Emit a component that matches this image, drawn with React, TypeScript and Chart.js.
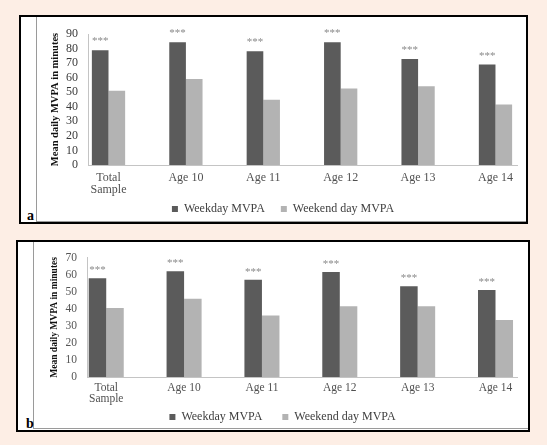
import React, { useEffect, useRef } from "react";
import { Chart, registerables } from "chart.js";

Chart.register(...registerables);

// ---- data ----
const categories: (string | string[])[] = [["Total", "Sample"], "Age 10", "Age 11", "Age 12", "Age 13", "Age 14"];
const seriesNames = ["Weekday MVPA", "Weekend day MVPA"];
const significance = ["***", "***", "***", "***", "***", "***"];

const weekdayA = [78.8, 84.3, 78.2, 84.3, 72.9, 69.0];
const weekendA = [51.0, 59.1, 44.9, 52.6, 54.1, 41.6];
const yMaxA = 90;

const weekdayB = [58.0, 62.1, 57.1, 61.7, 53.2, 51.0];
const weekendB = [40.5, 46.0, 36.1, 41.6, 41.6, 33.5];
const yMaxB = 70;

const yStep = 10;
const yTitle = "Mean daily MVPA in minutes";

// ---- styles ----
const SERIF = '"Liberation Serif", "Times New Roman", serif';
const DARK = "#5b5b5b";
const LIGHT = "#b3b3b3";
const AXIS = "#c4c4c4";
const PAGE_BG = "#fdeee5";

const starsPlugin = {
  id: "stars",
  afterDatasetsDraw(chart: any, _args: any, opts: any) {
    const meta = chart.getDatasetMeta(0);
    const ctx = chart.ctx;
    ctx.save();
    ctx.font = opts.font;
    ctx.fillStyle = opts.color;
    ctx.textAlign = "center";
    ctx.textBaseline = "alphabetic";
    meta.data.forEach((el: any, i: number) => {
      ctx.fillText(significance[i], el.x, el.y - opts.offset);
    });
    ctx.restore();
  },
};

type P = {
  weekday: number[];
  weekend: number[];
  yMax: number;
  xMin: number;
  xMax: number;
  catPct: number;
  padTop: number;
  yW: number;
  rW: number;
  xH: number;
  xPad: number;
  fontSize: number;
  legendPad: number;
  legendGap: string;
  titleSize: number;
  titlePad: number;
  tickColor: string;
  starOffset: number;
};

function buildConfig(p: P): any {
  const font = { family: SERIF, size: p.fontSize, lineHeight: 1 };
  return {
    type: "bar",
    data: {
      datasets: [
        {
          label: seriesNames[0],
          data: p.weekday.map((v, i) => ({ x: i, y: v })),
          backgroundColor: DARK,
          borderWidth: 0,
          categoryPercentage: p.catPct,
          barPercentage: 1,
        },
        {
          label: seriesNames[1],
          data: p.weekend.map((v, i) => ({ x: i, y: v })),
          backgroundColor: LIGHT,
          borderWidth: 0,
          categoryPercentage: p.catPct,
          barPercentage: 1,
        },
      ],
    },
    options: {
      responsive: false,
      animation: false,
      layout: { padding: { top: p.padTop, left: 0, right: 0, bottom: 0 } },
      plugins: {
        legend: {
          position: "bottom",
          labels: {
            boxWidth: 6,
            boxHeight: 6,
            padding: p.legendPad,
            font: { family: SERIF, size: 12 },
            color: "#404040",
            generateLabels: (chart: any) => {
              const items = Chart.defaults.plugins.legend.labels.generateLabels(chart);
              return items.map((it: any, i: number) => ({
                ...it,
                lineWidth: 0,
                text: i === 0 ? it.text + p.legendGap : it.text,
              }));
            },
          },
        },
        tooltip: { enabled: false },
        stars: { font: `11px ${SERIF}`, color: "#8a8a8a", offset: p.starOffset },
      },
      scales: {
        x: {
          type: "linear",
          offset: false,
          min: p.xMin,
          max: p.xMax,
          grid: { display: false, drawTicks: false, offset: false },
          border: { display: true, color: AXIS },
          afterBuildTicks: (s: any) => {
            s.ticks = categories.map((_, i) => ({ value: i }));
          },
          ticks: {
            autoSkip: false,
            maxRotation: 0,
            minRotation: 0,
            padding: p.xPad,
            font,
            color: "#505050",
            callback: (v: any) => categories[v] ?? "",
          },
          afterFit: (s: any) => {
            s.height = p.xH;
          },
        },
        y: {
          min: 0,
          max: p.yMax,
          grid: { display: false, drawTicks: false },
          border: { display: true, color: AXIS },
          ticks: { stepSize: yStep, autoSkip: false, padding: 10, font, color: p.tickColor },
          title: {
            display: true,
            text: yTitle,
            color: "#111",
            font: { family: SERIF, size: p.titleSize, weight: "bold" },
            padding: { top: p.titlePad, bottom: 0 },
          },
          afterFit: (s: any) => {
            s.width = p.yW;
          },
        },
        yr: {
          type: "linear",
          position: "right",
          display: true,
          grid: { display: false, drawTicks: false },
          border: { display: false },
          ticks: { display: false },
          afterFit: (s: any) => {
            s.width = p.rW;
          },
        },
      },
    },
    plugins: [starsPlugin],
  };
}

function ChartCanvas({ p, style, w, h }: { p: P; style: React.CSSProperties; w: number; h: number }) {
  const ref = useRef<HTMLCanvasElement | null>(null);
  useEffect(() => {
    if (!ref.current) return;
    const chart = new Chart(ref.current, buildConfig(p));
    return () => chart.destroy();
  }, []);
  return <canvas ref={ref} width={w} height={h} style={{ position: "absolute", ...style, width: w, height: h }} />;
}

const paramsA: P = {
  weekday: weekdayA,
  weekend: weekendA,
  yMax: yMaxA,
  xMin: -0.265,
  xMax: 5.278,
  catPct: 0.43,
  padTop: 10,
  yW: 51,
  rW: 12,
  xH: 31,
  xPad: 7,
  fontSize: 12,
  legendPad: 7,
  legendGap: "   ",
  titleSize: 10.5,
  titlePad: 12,
  tickColor: "#3a3a3a",
  starOffset: 6,
};

const paramsB: P = {
  weekday: weekdayB,
  weekend: weekendB,
  yMax: yMaxB,
  xMin: -0.247,
  xMax: 5.276,
  catPct: 0.45,
  padTop: 9,
  yW: 53,
  rW: 14,
  xH: 29,
  xPad: 5,
  fontSize: 11.5,
  legendPad: 5,
  legendGap: "     ",
  titleSize: 9.5,
  titlePad: 15,
  tickColor: "#555",
  starOffset: 5,
};

export default function App() {
  return (
    <div
      style={{
        position: "fixed",
        left: 0,
        top: 0,
        width: 547,
        height: 445,
        background: PAGE_BG,
        overflow: "hidden",
      }}
    >
      {/* panel a frame */}
      <div
        style={{
          position: "absolute",
          left: 19,
          top: 15,
          width: 509,
          height: 209,
          boxSizing: "border-box",
          border: "2px solid #000",
          background: "#fff",
        }}
      >
        <div style={{ position: "absolute", left: 15, top: 0, bottom: 1, width: 0, borderLeft: "1px solid #9a9a9a" }} />
        <div style={{ position: "absolute", left: 15, right: 0, top: 204, height: 0, borderTop: "1px solid #9a9a9a" }} />
        <div
          style={{
            position: "absolute",
            left: 6,
            top: 192,
            fontFamily: SERIF,
            fontWeight: "bold",
            fontSize: 14,
            lineHeight: "14px",
            color: "#000",
          }}
        >
          a
        </div>
      </div>
      {/* panel b frame */}
      <div
        style={{
          position: "absolute",
          left: 16,
          top: 240,
          width: 514,
          height: 192,
          boxSizing: "border-box",
          border: "2px solid #000",
          background: "#fff",
        }}
      >
        <div style={{ position: "absolute", left: 15, top: 0, bottom: 1, width: 0, borderLeft: "1px solid #9a9a9a" }} />
        <div style={{ position: "absolute", left: 15, right: 0, top: 186, height: 0, borderTop: "1px solid #9a9a9a" }} />
        <div
          style={{
            position: "absolute",
            left: 8,
            top: 175,
            fontFamily: SERIF,
            fontWeight: "bold",
            fontSize: 14,
            lineHeight: "14px",
            color: "#000",
          }}
        >
          b
        </div>
      </div>
      <ChartCanvas p={paramsA} style={{ left: 37, top: 18 }} w={492} h={207} />
      <ChartCanvas p={paramsB} style={{ left: 34, top: 242 }} w={497} h={191} />
    </div>
  );
}
